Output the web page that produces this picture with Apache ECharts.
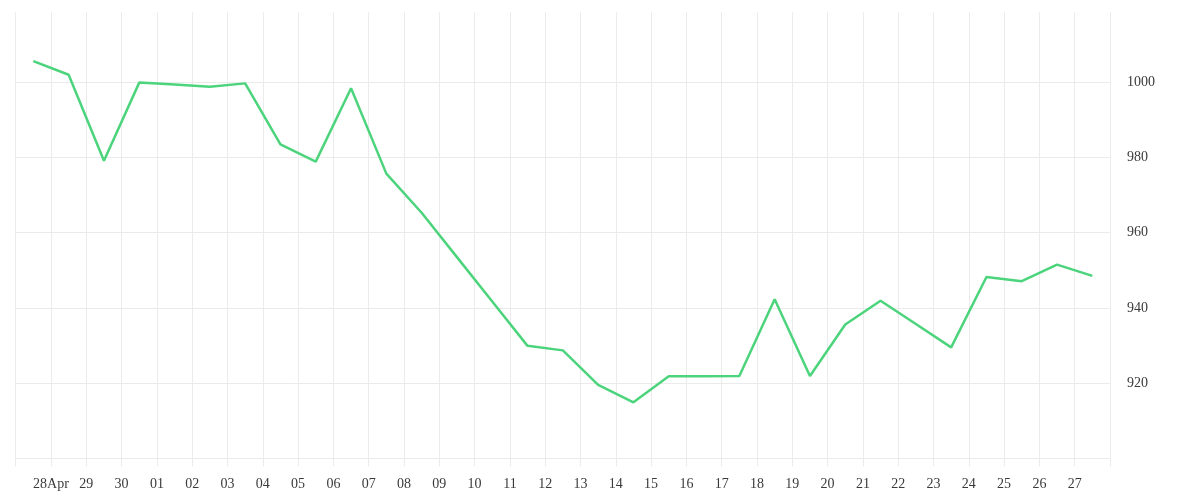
<!DOCTYPE html>
<html>
<head>
<meta charset="utf-8">
<script src="https://cdn.jsdelivr.net/npm/echarts@6/dist/echarts.min.js"></script>
<style>
html,body{margin:0;padding:0;background:#fff;}
#main{width:1200px;height:500px;}
</style>
</head>
<body>
<div id="main"></div>
<script>
// one value per day, 27 Apr .. 27 May (points sit at midday)
var days = ['27 Apr','28 Apr','29 Apr','30 Apr','01 May','02 May','03 May','04 May','05 May','06 May',
	'07 May','08 May','09 May','10 May','11 May','12 May','13 May','14 May','15 May','16 May',
	'17 May','18 May','19 May','20 May','21 May','22 May','23 May','24 May','25 May','26 May','27 May'];
var values = [1005.6,1002.0,979.1,999.9,999.4,998.8,999.7,983.5,978.9,998.4,
	975.7,965.3,953.5,941.7,929.9,928.7,919.5,914.9,921.8,921.8,
	921.9,942.3,921.9,935.6,941.9,935.7,929.5,948.2,947.1,951.5,948.5];
// labels at day boundaries (midnight), first and last left blank
var tickLabels = ['','28Apr','29','30','01','02','03','04','05','06','07','08','09','10','11','12',
	'13','14','15','16','17','18','19','20','21','22','23','24','25','26','27',''];

var seriesData = [];
for(var i=0;i<values.length;i++){
	seriesData.push([i+0.5, values[i]]);
}

var gridColor = '#ebebeb';
var fontFamily = '"Liberation Serif", serif';

var option = {
	animation:false,
	grid:{left:15.7,right:90,top:12.3,bottom:41.7,containLabel:false},
	tooltip:{trigger:'axis'},
	xAxis:{
		type:'value',
		min:0,
		max:days.length,
		interval:1,
		axisLine:{show:true,lineStyle:{color:gridColor,width:1}},
		axisTick:{show:true,length:8,lineStyle:{color:gridColor}},
		splitLine:{show:true,lineStyle:{color:gridColor,width:1}},
		axisLabel:{
			margin:19,
			color:'#3a3a3a',
			fontSize:14,
			fontFamily:fontFamily,
			showMinLabel:true,
			showMaxLabel:true,
			formatter:function(v){ return tickLabels[Math.round(v)] || ''; }
		}
	},
	yAxis:{
		type:'value',
		position:'right',
		min:900,
		max:1018.6,
		interval:20,
		axisLine:{show:false},
		axisTick:{show:false},
		splitLine:{show:true,showMaxLine:false,lineStyle:{color:gridColor,width:1}},
		axisLabel:{
			margin:17,
			color:'#3a3a3a',
			fontSize:14,
			fontFamily:fontFamily,
			showMinLabel:false,
			showMaxLabel:false,
			padding:[3,0,0,0],
			formatter:function(v){ return String(v); }
		}
	},
	series:[{
		name:'value',
		type:'line',
		data:seriesData,
		symbol:'none',
		smooth:false,
		lineStyle:{color:'#4cd47c',width:2.5},
		itemStyle:{color:'#4cd47c'}
	}]
};

echarts.init(document.getElementById('main')).setOption(option);
</script>
</body>
</html>
